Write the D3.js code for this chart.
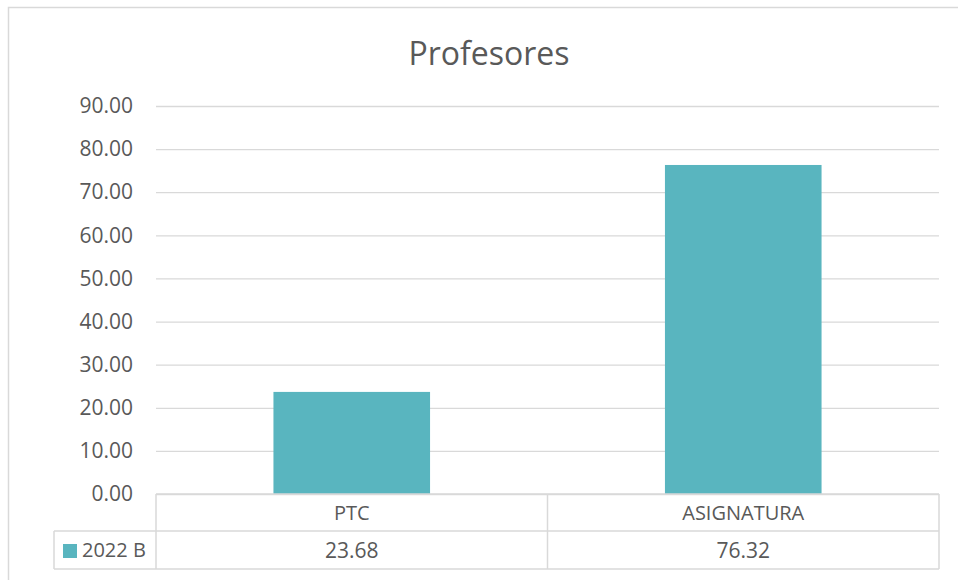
<!DOCTYPE html>
<html>
<head>
<meta charset="utf-8">
<script src="https://cdn.jsdelivr.net/npm/d3@7"></script>
<style>
  html, body { margin: 0; padding: 0; background: #fff; }
  svg { display: block; font-family: "Open Sans", "Liberation Sans", sans-serif; }
</style>
</head>
<body>
<div id="chart"></div>
<script>
// datos de la grafica
var categorias = ["PTC", "ASIGNATURA"];
var valores = [23.68, 76.32];
var serie = "2022 B";
var titulo = "Profesores";
var ticksY = [0, 10, 20, 30, 40, 50, 60, 70, 80, 90];

var width = 958, height = 580;
var plotLeft = 156, plotRight = 939, plotTop = 106, plotBottom = 494;
var rowH1 = 37, rowH2 = 38;
var legendLeft = 54;
var gris = "#595959", linea = "#d9d9d9", color = "#59b5bf";

var svg = d3.select("#chart").append("svg")
    .attr("width", width)
    .attr("height", height);

// borde del area del grafico
svg.append("rect")
    .attr("x", 8.5).attr("y", 7.5)
    .attr("width", width + 10).attr("height", height + 10)
    .attr("fill", "none")
    .attr("stroke", linea)
    .attr("stroke-width", 1.5);

svg.append("text")
    .attr("x", 489).attr("y", 65)
    .attr("text-anchor", "middle")
    .attr("fill", gris)
    .style("font-size", "32px")
    .text(titulo);

var fnScaleY = d3.scaleLinear()
    .domain([0, 90])
    .range([plotBottom, plotTop]);

// columnas de la tabla
var fnCol = d3.scaleBand()
    .domain(categorias)
    .range([plotLeft, plotRight]);

// barras
var fnBar = d3.scaleBand()
    .domain(categorias)
    .range([plotLeft, plotRight])
    .paddingInner(0.6)
    .paddingOuter(0.3);

// lineas de cuadricula
var axisY = d3.axisLeft(fnScaleY)
    .tickValues(ticksY)
    .tickSize(-(plotRight - plotLeft))
    .tickPadding(23)
    .tickFormat(d3.format(".2f"));

var gY = svg.append("g")
    .attr("transform", "translate(" + plotLeft + ",0)")
    .call(axisY);
gY.select(".domain").remove();
gY.selectAll(".tick line")
    .attr("stroke", linea)
    .attr("stroke-width", 1.3);
gY.selectAll(".tick text")
    .attr("fill", gris)
    .style("font-size", "21px")
    .style("font-family", "'Open Sans', sans-serif");

svg.selectAll("rect.bar")
    .data(valores)
    .enter().append("rect")
    .attr("class", "bar")
    .attr("x", function (d, i) { return fnBar(categorias[i]); })
    .attr("width", fnBar.bandwidth())
    .attr("y", function (d) { return fnScaleY(d); })
    .attr("height", function (d) { return fnScaleY(0) - fnScaleY(d); })
    .attr("fill", color);

// tabla de datos
var tabla = svg.append("g")
    .attr("stroke", linea)
    .attr("stroke-width", 1.5)
    .attr("fill", "none");

var y1 = plotBottom, y2 = plotBottom + rowH1, y3 = plotBottom + rowH1 + rowH2;
tabla.append("line").attr("x1", plotLeft).attr("x2", plotRight).attr("y1", y1).attr("y2", y1);
tabla.append("line").attr("x1", legendLeft).attr("x2", plotRight).attr("y1", y2).attr("y2", y2);
tabla.append("line").attr("x1", legendLeft).attr("x2", plotRight).attr("y1", y3).attr("y2", y3);
tabla.append("line").attr("x1", legendLeft).attr("x2", legendLeft).attr("y1", y2).attr("y2", y3);
tabla.selectAll("line.col")
    .data(categorias.concat(["fin"]))
    .enter().append("line")
    .attr("class", "col")
    .attr("x1", function (d, i) { return i < categorias.length ? fnCol(d) : plotRight; })
    .attr("x2", function (d, i) { return i < categorias.length ? fnCol(d) : plotRight; })
    .attr("y1", y1).attr("y2", y3);

svg.selectAll("text.cat")
    .data(categorias)
    .enter().append("text")
    .attr("class", "cat")
    .attr("x", function (d) { return fnCol(d) + fnCol.bandwidth() / 2; })
    .attr("y", (y1 + y2) / 2)
    .attr("dy", "0.36em")
    .attr("text-anchor", "middle")
    .attr("fill", gris)
    .style("font-size", "20px")
    .text(function (d) { return d; });

svg.selectAll("text.val")
    .data(valores)
    .enter().append("text")
    .attr("class", "val")
    .attr("x", function (d, i) { return fnCol(categorias[i]) + fnCol.bandwidth() / 2; })
    .attr("y", (y2 + y3) / 2)
    .attr("dy", "0.36em")
    .attr("text-anchor", "middle")
    .attr("fill", gris)
    .style("font-size", "21px")
    .text(function (d) { return d3.format(".2f")(d); });

// leyenda
svg.append("rect")
    .attr("x", 63).attr("y", 544)
    .attr("width", 14).attr("height", 14)
    .attr("fill", color);
svg.append("text")
    .attr("x", 82).attr("y", (y2 + y3) / 2)
    .attr("dy", "0.36em")
    .attr("fill", gris)
    .style("font-size", "20px")
    .text(serie);
</script>
</body>
</html>
